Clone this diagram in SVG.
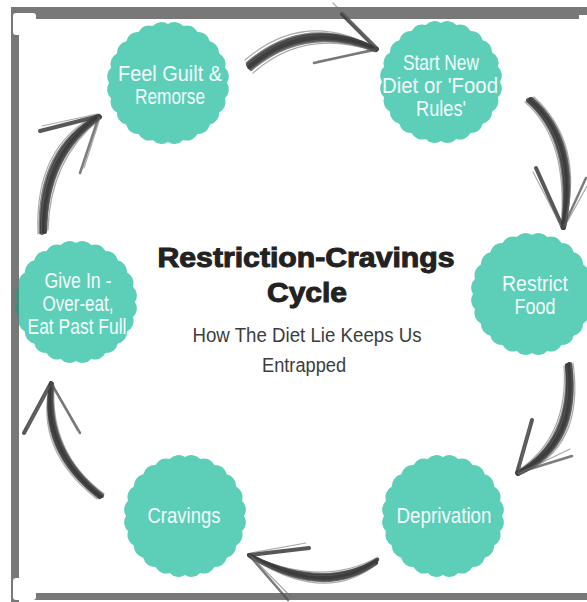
<svg xmlns="http://www.w3.org/2000/svg" width="587" height="602" viewBox="0 0 587 602">
<style>
.node text{font-family:"Liberation Sans Narrow","Liberation Sans",Arial,sans-serif;font-size:22px;fill:#f3fbf9;text-anchor:middle}
.badge{fill:#5dcfb9}
.bar{fill:#787878}
.k1{fill:none;stroke:#3a3a3a;stroke-width:4;stroke-linecap:round;opacity:.85}
.k2{fill:none;stroke:#505050;stroke-width:2.5;stroke-linecap:round;opacity:.75}
.k3{fill:none;stroke:#707070;stroke-width:1.2;stroke-linecap:round;opacity:.6}
.title{font-family:"Liberation Sans",Arial,sans-serif;font-weight:900;font-size:27px;fill:#222;stroke:#222;stroke-width:1;text-anchor:middle}
.sub{font-family:"Liberation Sans Narrow","Liberation Sans",Arial,sans-serif;font-size:20px;fill:#3d3d3d;text-anchor:middle}
</style>
<defs>
<path id="badge" d="M59,0 A12,12 0 0 1 56.99,15.27 A12,12 0 0 1 51.1,29.5 A12,12 0 0 1 41.72,41.72 A12,12 0 0 1 29.5,51.1 A12,12 0 0 1 15.27,56.99 A12,12 0 0 1 0,59 A12,12 0 0 1 -15.27,56.99 A12,12 0 0 1 -29.5,51.1 A12,12 0 0 1 -41.72,41.72 A12,12 0 0 1 -51.1,29.5 A12,12 0 0 1 -56.99,15.27 A12,12 0 0 1 -59,0 A12,12 0 0 1 -56.99,-15.27 A12,12 0 0 1 -51.1,-29.5 A12,12 0 0 1 -41.72,-41.72 A12,12 0 0 1 -29.5,-51.1 A12,12 0 0 1 -15.27,-56.99 A12,12 0 0 1 0,-59 A12,12 0 0 1 15.27,-56.99 A12,12 0 0 1 29.5,-51.1 A12,12 0 0 1 41.72,-41.72 A12,12 0 0 1 51.1,-29.5 A12,12 0 0 1 56.99,-15.27 A12,12 0 0 1 59,0 Z"/>
<clipPath id="leftbar"><rect x="11" y="7" width="8" height="595"/></clipPath>
</defs>
<rect width="587" height="602" fill="#fff"/>

<g id="node-guilt" class="node">
<use href="#badge" x="168" y="83" class="badge"/>
<text x="170" y="81" textLength="104" lengthAdjust="spacingAndGlyphs">Feel Guilt &amp;</text>
<text x="170" y="104" textLength="70" lengthAdjust="spacingAndGlyphs">Remorse</text>
</g>
<g id="node-start" class="node">
<use href="#badge" x="441" y="82" class="badge"/>
<text x="441" y="70" textLength="76" lengthAdjust="spacingAndGlyphs">Start New</text>
<text x="440" y="93" textLength="116" lengthAdjust="spacingAndGlyphs">Diet or 'Food</text>
<text x="441" y="116" textLength="50" lengthAdjust="spacingAndGlyphs">Rules'</text>
</g>
<g id="node-restrict" class="node">
<use href="#badge" x="532" y="294" class="badge"/>
<text x="535" y="291" textLength="66" lengthAdjust="spacingAndGlyphs">Restrict</text>
<text x="535" y="314" textLength="41" lengthAdjust="spacingAndGlyphs">Food</text>
</g>
<g id="node-deprivation" class="node">
<use href="#badge" x="443" y="516" class="badge"/>
<text x="444" y="523" textLength="95" lengthAdjust="spacingAndGlyphs">Deprivation</text>
</g>
<g id="node-cravings" class="node">
<use href="#badge" x="185" y="516" class="badge"/>
<text x="184" y="523" textLength="73" lengthAdjust="spacingAndGlyphs">Cravings</text>
</g>
<g id="node-givein" class="node">
<use href="#badge" x="76" y="302" class="badge"/>
<text x="78" y="288" textLength="67" lengthAdjust="spacingAndGlyphs">Give In -</text>
<text x="78" y="311" textLength="71" lengthAdjust="spacingAndGlyphs">Over-eat,</text>
<text x="77" y="334" textLength="99" lengthAdjust="spacingAndGlyphs">Eat Past Full</text>
</g>

<g id="frame">
<path class="bar" d="M11,7 H587 V15 H579 V19 H19 V602 H11 Z"/>
<path class="bar" d="M11,593 H587 V600 H11 Z"/>
<rect x="13" y="13" width="23" height="22" rx="3" fill="#fff"/>
<rect x="13" y="578" width="23" height="22" rx="3" fill="#fff"/>
<g clip-path="url(#leftbar)"><use href="#badge" x="76" y="302" fill="#3f8b7e"/></g>
</g>

<g id="title">
<text class="title" x="306" y="267" textLength="297" lengthAdjust="spacingAndGlyphs">Restriction-Cravings</text>
<text class="title" x="307" y="302" textLength="80" lengthAdjust="spacingAndGlyphs">Cycle</text>
<text class="sub" x="307" y="342" textLength="229" lengthAdjust="spacingAndGlyphs">How The Diet Lie Keeps Us</text>
<text class="sub" x="304" y="372" textLength="84" lengthAdjust="spacingAndGlyphs">Entrapped</text>
</g>

<g id="connectors">
<!-- guilt -> start -->
<path class="k3" d="M245,60 Q306,8 377,49"/>
<path class="k2" d="M247,63 Q306,12 377,49"/>
<path class="k1" d="M248,65 Q306,15 377,49"/>
<path class="k1" d="M249,67 Q306,18 376,50"/>
<path class="k1" d="M250,68 Q305,21 376,50"/>
<path class="k2" d="M251,70 Q305,24 375,51"/>
<path class="k3" d="M253,73 Q304,28 374,51"/>
<path class="k1" d="M377,49 L342,14"/>
<path class="k3" d="M376,47 L333,3"/>
<path class="k2" d="M377,49 L314,63"/>
<path class="k3" d="M375,51 L318,61"/>
<!-- start -> restrict -->
<path class="k3" d="M525,102 Q569,140 561,228"/>
<path class="k2" d="M527,101 Q572,140 562,228"/>
<path class="k1" d="M528,100 Q575,140 563,228"/>
<path class="k1" d="M530,99 Q578,140 564,228"/>
<path class="k1" d="M531,99 Q580,141 564,227"/>
<path class="k2" d="M532,98 Q582,142 565,226"/>
<path class="k3" d="M534,97 Q585,144 565,224"/>
<path class="k1" d="M563,228 L536,168"/>
<path class="k3" d="M561,226 L533,172"/>
<path class="k2" d="M563,228 L586,178"/>
<path class="k3" d="M565,226 L587,186"/>
<!-- restrict -> deprivation -->
<path class="k3" d="M564,366 Q569,438 516,472"/>
<path class="k2" d="M566,365 Q572,440 517,473"/>
<path class="k1" d="M567,365 Q575,442 517,473"/>
<path class="k1" d="M569,364 Q578,444 518,474"/>
<path class="k1" d="M570,364 Q580,445 518,474"/>
<path class="k2" d="M571,364 Q582,447 519,474"/>
<path class="k3" d="M573,363 Q585,449 520,474"/>
<path class="k1" d="M517,473 L532,420"/>
<path class="k3" d="M519,471 L530,424"/>
<path class="k2" d="M517,473 L572,456"/>
<path class="k3" d="M518,474 L570,449"/>
<!-- deprivation -> cravings -->
<path class="k3" d="M378,557 Q323,588 249,555"/>
<path class="k2" d="M378,559 Q323,591 249,555"/>
<path class="k1" d="M377,560 Q323,594 249,555"/>
<path class="k1" d="M376,562 Q323,597 250,556"/>
<path class="k1" d="M376,563 Q323,599 250,556"/>
<path class="k2" d="M375,564 Q323,601 251,557"/>
<path class="k3" d="M374,566 Q323,604 252,558"/>
<path class="k1" d="M249,555 L309,548"/>
<path class="k3" d="M251,553 L306,543"/>
<path class="k2" d="M249,555 L288,600"/>
<path class="k3" d="M251,556 L292,598"/>
<!-- cravings -> give in -->
<path class="k3" d="M97,499 Q34,450 50,383"/>
<path class="k2" d="M99,498 Q37,450 51,383"/>
<path class="k1" d="M100,497 Q40,450 51,383"/>
<path class="k1" d="M101,496 Q43,450 52,384"/>
<path class="k1" d="M102,496 Q45,451 52,384"/>
<path class="k2" d="M103,495 Q47,452 53,385"/>
<path class="k3" d="M104,494 Q50,454 54,386"/>
<path class="k1" d="M51,383 L24,433"/>
<path class="k3" d="M50,386 L27,428"/>
<path class="k2" d="M51,383 L80,433"/>
<path class="k3" d="M53,385 L77,430"/>
<!-- give in -> guilt -->
<path class="k3" d="M38,234 Q34,146 98,114"/>
<path class="k2" d="M40,233 Q37,148 99,115"/>
<path class="k1" d="M42,233 Q40,150 99,116"/>
<path class="k1" d="M44,232 Q43,152 100,117"/>
<path class="k1" d="M45,232 Q45,154 100,117"/>
<path class="k2" d="M46,231 Q47,156 100,118"/>
<path class="k3" d="M48,230 Q50,159 100,119"/>
<path class="k1" d="M99,116 L40,131"/>
<path class="k3" d="M97,114 L42,126"/>
<path class="k2" d="M99,116 L80,173"/>
<path class="k3" d="M100,118 L84,168"/>
</g>
</svg>
